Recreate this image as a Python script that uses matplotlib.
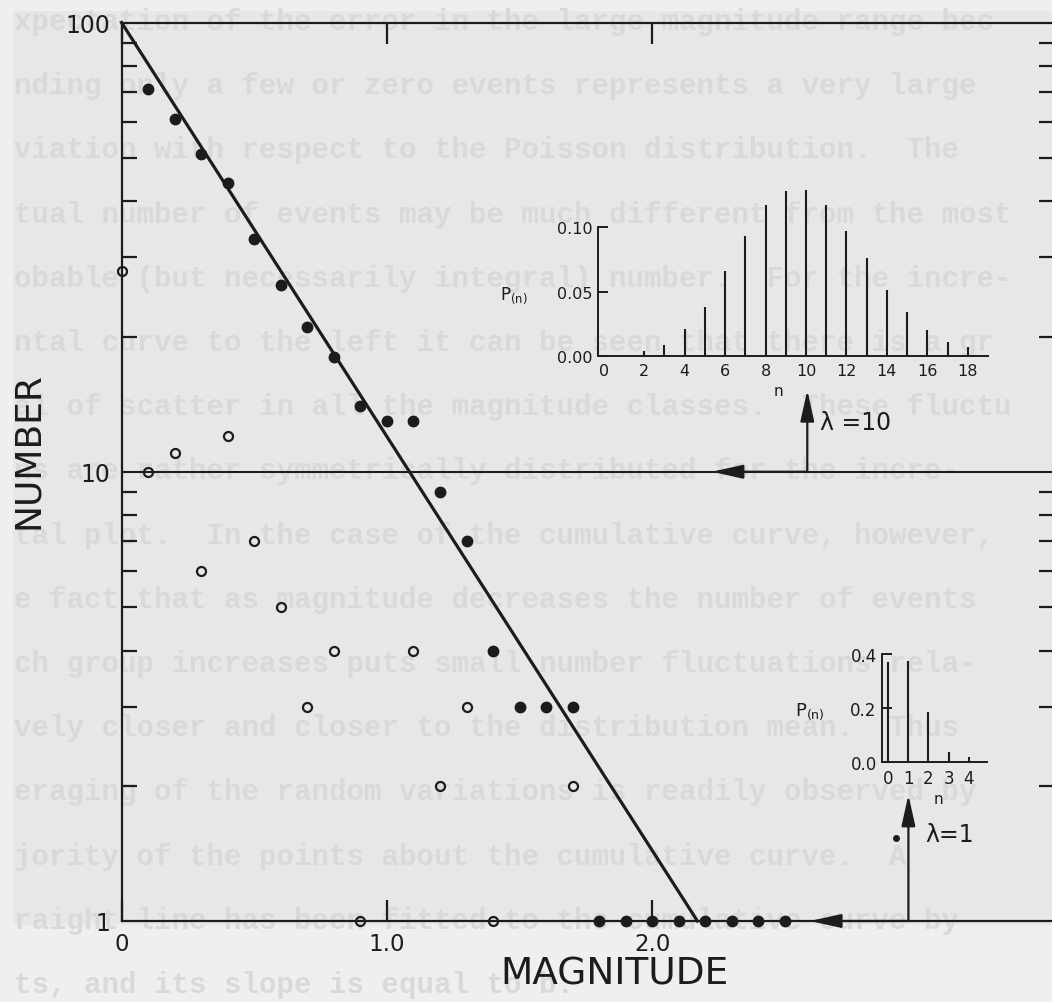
"""
Cumulative and incremental magnitude-frequency plot with two Poisson insets.
Output: out.png
"""

import matplotlib
matplotlib.use("Agg")
import matplotlib.pyplot as plt
from matplotlib.patches import FancyArrowPatch, Rectangle
from matplotlib.ticker import LogLocator, NullFormatter, FixedLocator

# ─── Canvas ──────────────────────────────────────────────────────────────────
DPI = 100
W, H = 1052, 1003

# ─── Colours ─────────────────────────────────────────────────────────────────
PAPER = "#efefed"      # margin of the scan
SCAN = "#e7e7e5"       # scanned area
GHOST = "#d9d9d7"      # text showing through from the other side
INK = "#1c1c1c"

# ─── Data ────────────────────────────────────────────────────────────────────
# cumulative number (filled dots)
MAG_CUM = [0.1, 0.2, 0.3, 0.4, 0.5, 0.6, 0.7, 0.8, 0.9, 1.0, 1.1, 1.2, 1.3,
           1.4, 1.5, 1.6, 1.7, 1.8, 1.9, 2.0, 2.1, 2.2, 2.3, 2.4, 2.5]
N_CUM = [71, 61, 51, 44, 33, 26, 21, 18, 14, 13, 13, 9, 7,
         4, 3, 3, 3, 1, 1, 1, 1, 1, 1, 1, 1]

# incremental number (open circles)
MAG_INC = [0.0, 0.1, 0.2, 0.3, 0.4, 0.5, 0.6, 0.7, 0.8, 0.9, 1.1, 1.2, 1.3, 1.4, 1.7]
N_INC = [28, 10, 11, 6, 12, 7, 5, 3, 4, 1, 4, 2, 3, 1, 2]

# fitted straight line
FIT_MAG = [0.0, 2.17]
FIT_N = [100, 1]

# stray dot beside the lambda = 1 arrow
DOT_MAG = [2.92]
DOT_N = [1.53]

# Poisson inset, lambda = 10
N10 = [2, 3, 4, 5, 6, 7, 8, 9, 10, 11, 12, 13, 14, 15, 16, 17, 18]
P10 = [0.004, 0.009, 0.021, 0.038, 0.066, 0.093, 0.117, 0.128, 0.129,
       0.117, 0.097, 0.076, 0.051, 0.034, 0.020, 0.011, 0.007]

# Poisson inset, lambda = 1
N1 = [0, 1, 2, 3, 4]
P1 = [0.369, 0.373, 0.187, 0.037, 0.018]

GHOST_LINES = [
    "xpectation of the error in the large magnitude range bec",
    "nding only a few or zero events represents a very large",
    "viation with respect to the Poisson distribution.  The",
    "tual number of events may be much different from the most",
    "obable (but necessarily integral) number.  For the incre-",
    "ntal curve to the left it can be seen that there is a gr",
    "al of scatter in all the magnitude classes.  These fluctu",
    "ns are rather symmetrically distributed for the incre-",
    "tal plot.  In the case of the cumulative curve, however,",
    "e fact that as magnitude decreases the number of events",
    "ch group increases puts small number fluctuations rela-",
    "vely closer and closer to the distribution mean.  Thus",
    "eraging of the random variations is readily observed by",
    "jority of the points about the cumulative curve.  A",
    "raight line has been fitted to the cumulative curve by",
    "ts, and its slope is equal to b.",
]


def px_rect(left, right, bottom, top):
    """Axes rectangle from pixel edges (0,0 = top-left)."""
    return [left / W, 1 - bottom / H, (right - left) / W, (bottom - top) / H]


def arrow(ax, start, end):
    ax.add_patch(FancyArrowPatch(
        start, end,
        arrowstyle="-|>,head_length=1.9,head_width=0.42",
        mutation_scale=10, lw=1.6, color=INK,
        shrinkA=0, shrinkB=0, clip_on=False, zorder=4,
    ))


def style_inset(ax, labelsize):
    ax.set_facecolor("none")
    for side in ("top", "right"):
        ax.spines[side].set_visible(False)
    for side in ("left", "bottom"):
        ax.spines[side].set_linewidth(1.4)
        ax.spines[side].set_color(INK)
    ax.tick_params(axis="y", direction="in", length=7, width=1.4,
                   labelsize=labelsize, pad=4, colors=INK)
    ax.tick_params(axis="x", length=0, labelsize=labelsize, pad=5, colors=INK)


plt.rcParams["font.family"] = ["DejaVu Sans"]

fig = plt.figure(figsize=(W / DPI, H / DPI), dpi=DPI)
fig.patch.set_facecolor(PAPER)

# scanned area + show-through text
fig.add_artist(Rectangle((13 / W, 1 - 926 / H), 1, (926 - 12) / H,
                         transform=fig.transFigure, facecolor=SCAN,
                         edgecolor="none", zorder=-3))
for i, line in enumerate(GHOST_LINES):
    fig.text(14 / W, 1 - (22 + i * 64.2) / H, line, ha="left", va="center",
             family="Liberation Mono", fontsize=21, fontweight="bold",
             color=GHOST, zorder=-2)

# ─── Main axes ───────────────────────────────────────────────────────────────
X0, X1 = 121.5, 1054
ax = fig.add_axes(px_rect(X0, X1, 922, 23.5))
ax.set_facecolor("none")
ax.set_yscale("log")
ax.set_ylim(1, 100)
ax.set_xlim(0, (X1 - X0) / 265.4)

for side in ax.spines.values():
    side.set_linewidth(1.6)
    side.set_color(INK)

ax.set_xticks([0, 1, 2])
ax.set_xticklabels(["0", "1.0", "2.0"])
ax.tick_params(axis="x", direction="in", length=15, width=1.6, top=True,
               bottom=True, labelsize=16.5, pad=8, colors=INK)

ax.yaxis.set_major_locator(FixedLocator([1, 10, 100]))
ax.set_yticklabels(["1", "10", "100"])
ax.yaxis.set_minor_locator(LogLocator(base=10, subs=range(2, 10)))
ax.yaxis.set_minor_formatter(NullFormatter())
ax.tick_params(axis="y", which="major", length=0, labelsize=17, pad=8,
               colors=INK)
ax.tick_params(axis="y", which="minor", direction="in", length=11,
               width=1.6, left=True, right=True, colors=INK)

ax.axhline(10, color=INK, lw=1.5, zorder=1)

ax.plot(FIT_MAG, FIT_N, color=INK, lw=2.3, zorder=2, clip_on=False)
ax.plot(MAG_INC, N_INC, "o", ms=6.5, mfc="none", mec=INK, mew=1.6,
        zorder=3, clip_on=False)
ax.plot(MAG_CUM, N_CUM, "o", ms=7.5, color=INK, zorder=3, clip_on=False)
ax.plot(DOT_MAG, DOT_N, "o", ms=4, color=INK, zorder=3)

# lambda arrows
arrow(ax, (2.584, 10), (2.584, 15.2))
arrow(ax, (2.584, 10), (2.224, 10))
ax.text(2.632, 12.9, "λ =10", fontsize=17, va="center", ha="left", color=INK)

arrow(ax, (2.965, 1), (2.965, 1.91))
arrow(ax, (2.965, 1), (2.594, 1))
ax.text(3.027, 1.56, "λ=1", fontsize=17, va="center", ha="left", color=INK)

fig.text(28 / W, 1 - 451 / H, "NUMBER", rotation=90, ha="center",
         va="center", fontsize=26, color=INK)
fig.text(615 / W, 1 - 975 / H, "MAGNITUDE", ha="center", va="center",
         fontsize=27, color=INK)

# ─── Inset lambda = 10 ──────────────────────────────────────────────────────
a10 = fig.add_axes(px_rect(598.3, 988, 357.2, 185))
style_inset(a10, 11.5)
a10.set_xlim(-0.27, 19.0)
a10.set_ylim(0, (357.2 - 185) / 1290)
a10.spines["left"].set_bounds(0, 0.10)
a10.vlines(N10, 0, P10, color=INK, lw=1.5)
a10.set_yticks([0, 0.05, 0.10])
a10.set_yticklabels(["0.00", "0.05", "0.10"])
a10.set_xticks(range(0, 19, 2))
fig.text(500 / W, 1 - 296 / H, r"P$_{\mathrm{(n)}}$", ha="left", va="center",
         fontsize=12, color=INK)
fig.text(778 / W, 1 - 391 / H, "n", ha="center", va="center",
         fontsize=11, color=INK)

# ─── Inset lambda = 1 ───────────────────────────────────────────────────────
a1 = fig.add_axes(px_rect(882.3, 986.7, 763.3, 655))
style_inset(a1, 12)
a1.set_xlim(-0.27, 4.88)
a1.set_ylim(0, 0.4)
a1.vlines(N1, 0, P1, color=INK, lw=1.5)
a1.set_yticks([0, 0.2, 0.4])
a1.set_yticklabels(["0.0", "0.2", "0.4"])
a1.set_xticks(N1)
fig.text(795 / W, 1 - 712 / H, r"P$_{\mathrm{(n)}}$", ha="left", va="center",
         fontsize=13, color=INK)
fig.text(938 / W, 1 - 800 / H, "n", ha="center", va="center",
         fontsize=11, color=INK)

fig.savefig("out.png", dpi=DPI, facecolor=PAPER)
print("saved out.png")
